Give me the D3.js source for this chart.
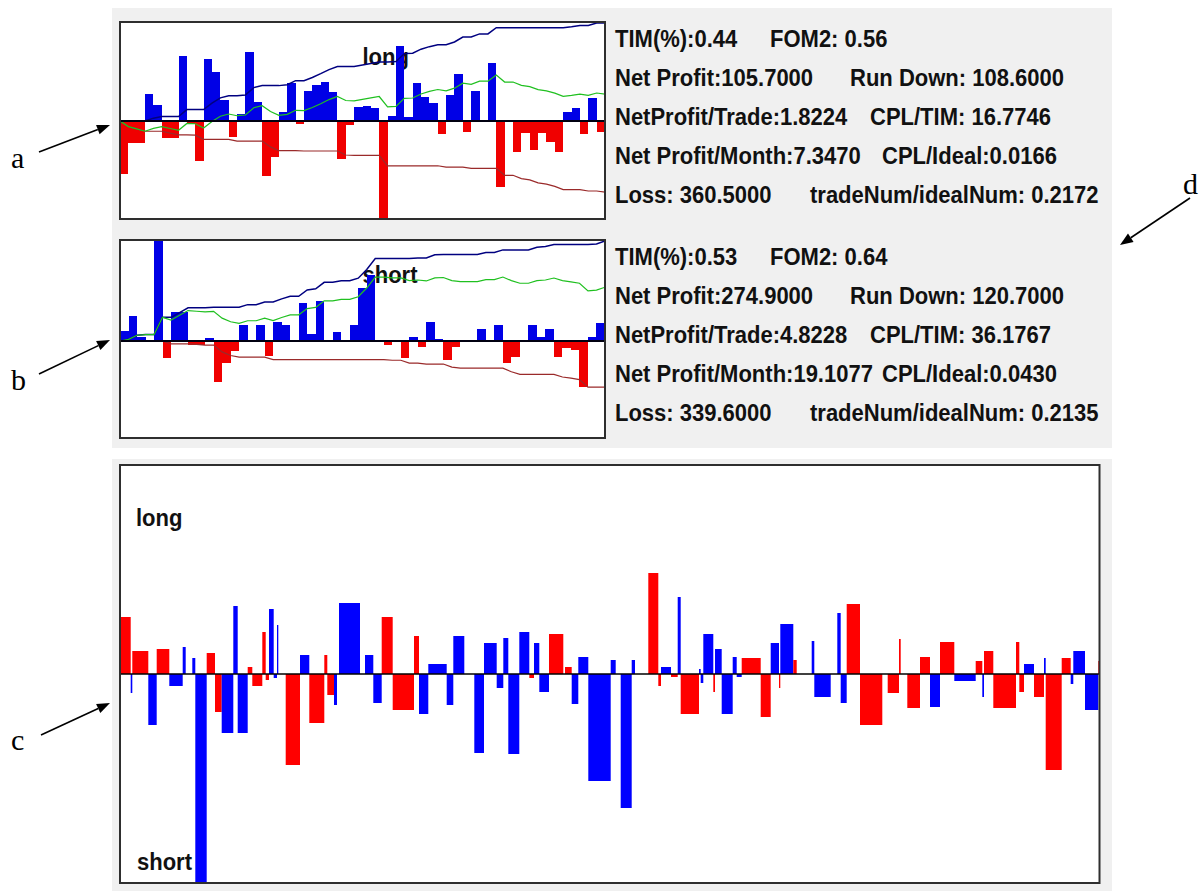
<!DOCTYPE html>
<html>
<head>
<meta charset="utf-8">
<script src="https://cdn.jsdelivr.net/npm/d3@7"></script>
<style>
  html, body { margin: 0; padding: 0; background: #ffffff; }
  svg { display: block; }
  .stat, .tag { font-family: "Liberation Sans", Arial, sans-serif; font-weight: bold; fill: #111; }
  .letter { font-family: "Liberation Serif", "Times New Roman", serif; fill: #000; }
</style>
</head>
<body>
<svg id="chart" width="1199" height="894"></svg>
<script>
// ---- Long trades: P/L of each trade, in trade order ----
const longTrades = [
  -53, -22, -22, 27, 16, -17, -17, 65, -3, -40,
   62, 49, 21, -16, 7, 69, 19, -55, -36, 9,
   38, -3, 30, 36, 39, 29, -38, -4, 14, 15,
   13, -98, 5, 75, 4, 38, 24, 18, -13, 26,
   47, -11, 30, 0, 58, -66, 0, -31, -12, -29,
  -12, -21, -31, 9, 13, -13, 23, -11
];

// ---- Short trades: P/L of each trade, in trade order ----
const shortTrades = [
  10, 25, 4, 0, 105, -17, 29, 29, -4, -4,
   3, -41, -22, -10, 16, 0, 16, -15, 19, 16,
   0, 38, 7, 40, 0, 9, 0, 16, 53, 66,
   0, -4, 0, -17, 4, -6, 19, 2, -19, -6,
   0, 0, 12, 0, 16, -22, -16, 0, 16, 4,
  12, -16, -7, -9, -46, 4, 18
];

// ---- All trades on a time axis: duration, side (L long / S short / - idle), P/L ----
const combinedDuration = [
  10.7, 1.6, 16, 8.4, 12.6, 13.4, 3, 6.6, 3, 11.4,
  8.3, 6.7, 11.6, 4.4, 10, 4.6, 10, 3.4, 3.3, 4.7,
  3.3, 1.3, 7.4, 14.3, 9.3, 15, 3, 6.7, 3, 2,
  21, 5, 8.3, 8.4, 11, 21.3, 5, 9.3, 18.4, 6.6,
  11, 10, 9.7, 12.7, 6.6, 5, 11, 10, 4.7, 5.3,
  9.7, 14.3, 1.7, 6.7, 6.6, 10, 22.4, 5, 5, 11,
  3.3, 13.3, 10, 2.7, 10, 6.7, 3, 18.3, 1.7, 2.6,
  10, 1.7, 6.7, 11, 4, 5, 19, 10, 8.3, 1.3,
  13, 3.4, 15, 2.6, 16.4, 6.6, 3.4, 6, 13.3, 22.3,
  5.4, 11.3, 1.7, 6.6, 12.7, 10, 10, 14.3, 21.4, 6.6,
  1.7, 9.3, 22.7, 3.3, 4.7, 10, 10, 1.7, 16, 9,
  2.6, 11.7, 13.3, 1.2
];
const combinedSide = [
  "L","S","L","S","L","S","L","-","L","S",
  "L","S","S","L","S","L","S","L","S","L",
  "S","L","-","S","L","S","L","S","S","-",
  "L","-","L","S","L","S","L","S","L","S",
  "L","-","S","L","S","L","S","L","S","L",
  "S","L","-","L","S","L","S","L","-","S",
  "L","-","L","S","L","S","L","S","L","S",
  "L","S","L","S","L","S","L","S","L","S",
  "L","L","-","L","S","-","L","S","L","S",
  "-","S","L","-","S","L","S","L","S","L",
  "S","L","S","L","S","L","S","L","S","L",
  "S","L","S","L"
];
const combinedPnl = [
  -57, 19, -23, 51, -25, 12, 27, 0, 16, 209,
  -21, -38, 59, 68, 59, -7, -12, -42, -6, 65,
    4, 49, 0, -91, 19, -49, -19, -21, 31, 0,
   71, 0, 19, 29, -57, -36, -38, 40, 10, 31,
   38, 0, 79, 31, 14, 36, 80, 42, -4, 31,
   18, -40, 0, -7, 30, 17, 107, 14, 0, 134,
   14, 0, -101, -12, 7, -3, 77, -40, 5, 9,
   40, -18, 25, 40, 17, 3, -16, -43, 31, -14,
   50, -14, 0, 33, 23, 0, 61, 29, -70, -51,
    0, -19, -35, 0, -34, -17, 33, -32, 7, -13,
   23, -23, -34, -32, -18, 10, -23, 16, -96, -16,
   10, 23, 36, -13
];

// ---- Statistics shown beside each trade panel ----
const longStats = [
  ["TIM(%):0.44", "FOM2: 0.56"],
  ["Net Profit:105.7000", "Run Down: 108.6000"],
  ["NetProfit/Trade:1.8224", "CPL/TIM: 16.7746"],
  ["Net Profit/Month:7.3470", "CPL/Ideal:0.0166"],
  ["Loss: 360.5000", "tradeNum/idealNum: 0.2172"]
];
const shortStats = [
  ["TIM(%):0.53", "FOM2: 0.64"],
  ["Net Profit:274.9000", "Run Down: 120.7000"],
  ["NetProfit/Trade:4.8228", "CPL/TIM: 36.1767"],
  ["Net Profit/Month:19.1077", "CPL/Ideal:0.0430"],
  ["Loss: 339.6000", "tradeNum/idealNum: 0.2135"]
];

// ---------------------------------------------------------------
const svg = d3.select("#chart");
const BLUE = "#0000e6", RED = "#f00000";

// Bold label in a tall, slightly narrow face: set width at 22px, draw glyphs taller
function boldText(parent, x, y, str) {
  const t = parent.append("text").attr("class", "tag").attr("x", x).attr("y", y)
    .attr("font-size", 22).text(str);
  const w = t.node().getComputedTextLength();
  t.attr("font-size", 23.5).attr("textLength", w).attr("lengthAdjust", "spacingAndGlyphs");
  return t;
}

// grey dialog backgrounds
svg.append("rect").attr("x", 112).attr("y", 8).attr("width", 1000).attr("height", 440).attr("fill", "#f0f0f0");
svg.append("rect").attr("x", 112).attr("y", 459).attr("width", 1000).attr("height", 432).attr("fill", "#f0f0f0");

let clipId = 0;
function framedArea(box) {
  const id = "clip" + (clipId++);
  svg.append("clipPath").attr("id", id)
    .append("rect").attr("x", box.x0).attr("y", box.y0)
    .attr("width", box.x1 - box.x0).attr("height", box.y1 - box.y0);
  svg.append("rect").attr("x", box.x0).attr("y", box.y0)
    .attr("width", box.x1 - box.x0).attr("height", box.y1 - box.y0).attr("fill", "#ffffff");
  return svg.append("g").attr("clip-path", `url(#${id})`);
}
function frame(box) {
  svg.append("rect").attr("x", box.x0).attr("y", box.y0)
    .attr("width", box.x1 - box.x0).attr("height", box.y1 - box.y0)
    .attr("fill", "none").attr("stroke", "#2e2e2e").attr("stroke-width", 2);
}

// One side's trade panel: bars per trade plus cumulative gain / loss / net curves
function tradePanel(values, box, yDomain, label) {
  const g = framedArea(box);
  const x = d3.scaleLinear().domain([0, values.length]).range([box.x0, box.x1]);
  const y = d3.scaleLinear().domain(yDomain).range([box.y1, box.y0]);

  boldText(g, (box.x0 + box.x1) / 2, box.y0 + 42.5, label);

  g.selectAll("rect.bar").data(values.map((v, i) => ({ v, i })).filter(d => d.v !== 0))
    .join("rect").attr("class", "bar")
    .attr("x", d => x(d.i)).attr("width", d => x(d.i + 1) - x(d.i))
    .attr("y", d => y(Math.max(d.v, 0))).attr("height", d => Math.abs(y(d.v) - y(0)))
    .attr("fill", d => d.v > 0 ? BLUE : RED)
    .attr("shape-rendering", "crispEdges");

  // cumulative curves share one factor so gross gain reaches the top edge
  const totalGain = d3.sum(values, v => Math.max(v, 0));
  const k = (yDomain[1] - 1) / totalGain;
  const gain = [0], loss = [0], net = [0];
  values.forEach((v, i) => {
    gain.push(gain[i] + Math.max(v, 0));
    loss.push(loss[i] + Math.min(v, 0));
    net.push(net[i] + v);
  });
  const line = d3.line().x((d, i) => x(i)).y(d => y(d * k));
  [[loss, "#9a2a2a", 1.2], [gain, "#000080", 1.5], [net, "#20c020", 1.2]].forEach(([s, c, w]) => {
    g.append("path").attr("d", line(s)).attr("fill", "none").attr("stroke", c).attr("stroke-width", w);
  });

  g.append("line").attr("x1", box.x0).attr("x2", box.x1).attr("y1", y(0)).attr("y2", y(0))
    .attr("stroke", "#000010").attr("stroke-width", 2);
  frame(box);
}

function statBlock(rows, baselines) {
  const col2 = [770, 850, 870, 882, 810];
  rows.forEach((r, i) => {
    boldText(svg, 615, baselines[i], r[0]);
    boldText(svg, col2[i], baselines[i], r[1]);
  });
}

tradePanel(longTrades, { x0: 120, x1: 605, y0: 22, y1: 219 }, [-98, 99], "long");
tradePanel(shortTrades, { x0: 120, x1: 605, y0: 240, y1: 438 }, [-97, 101], "short");
statBlock(longStats, [46.5, 85.5, 125, 163.5, 203]);
statBlock(shortStats, [264.5, 303.5, 343, 381.5, 421]);

// ---- Combined panel: long trades up, short trades down, blue = win, red = loss ----
(function () {
  const box = { x0: 120, x1: 1099.5, y0: 465, y1: 883 };
  const g = framedArea(box);
  const starts = [0];
  combinedDuration.forEach((d, i) => starts.push(starts[i] + d));
  const x = d3.scaleLinear().domain([0, starts[starts.length - 1]]).range([box.x0, box.x1]);
  const y = d3.scaleLinear().domain([-209, 209]).range([box.y1, box.y0]);

  const trades = combinedPnl.map((p, i) => ({
    t0: starts[i], t1: starts[i + 1], side: combinedSide[i], pnl: p
  })).filter(d => d.side !== "-" && d.pnl !== 0);

  g.selectAll("rect").data(trades).join("rect")
    .attr("x", d => x(d.t0))
    .attr("width", d => Math.max(1.2, x(d.t1) - x(d.t0)))
    .attr("y", d => d.side === "L" ? y(Math.abs(d.pnl)) : y(0))
    .attr("height", d => y(0) - y(Math.abs(d.pnl)))
    .attr("fill", d => d.pnl > 0 ? "#0000ff" : "#ff0000");

  g.append("line").attr("x1", box.x0).attr("x2", box.x1).attr("y1", y(0)).attr("y2", y(0))
    .attr("stroke", "#000").attr("stroke-width", 1.5);

  boldText(g, 136, 526, "long");
  boldText(g, 137, 870, "short");
  frame(box);
})();

// ---- Callout letters and arrows ----
function arrow(x1, y1, x2, y2) {
  const a = Math.atan2(y2 - y1, x2 - x1), L = 13, Wd = 5;
  const bx = x2 - L * Math.cos(a), by = y2 - L * Math.sin(a);
  svg.append("line").attr("x1", x1).attr("y1", y1).attr("x2", bx).attr("y2", by)
    .attr("stroke", "#000").attr("stroke-width", 1.6);
  const p = [[x2, y2],
    [bx + Wd * Math.sin(a), by - Wd * Math.cos(a)],
    [bx - Wd * Math.sin(a), by + Wd * Math.cos(a)]];
  svg.append("path").attr("d", "M" + p.join("L") + "Z").attr("fill", "#000");
}
const callouts = [
  { t: "a", tx: 11, ty: 168, from: [39, 152], to: [110, 125] },
  { t: "b", tx: 11, ty: 390, from: [39, 374], to: [110, 340] },
  { t: "c", tx: 11, ty: 750, from: [41, 735], to: [110, 703] },
  { t: "d", tx: 1183, ty: 194, from: [1190, 198], to: [1120, 245] }
];
callouts.forEach(c => {
  svg.append("text").attr("class", "letter").attr("x", c.tx).attr("y", c.ty).attr("font-size", 30).text(c.t);
  arrow(c.from[0], c.from[1], c.to[0], c.to[1]);
});
</script>
</body>
</html>
